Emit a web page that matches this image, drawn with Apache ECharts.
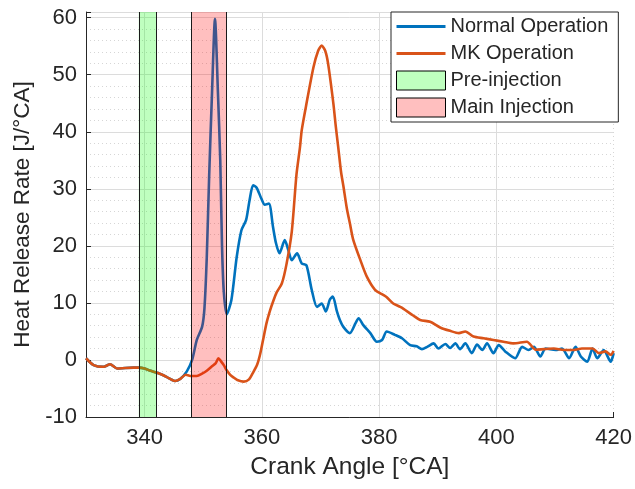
<!DOCTYPE html>
<html><head><meta charset="utf-8">
<script src="https://cdn.jsdelivr.net/npm/echarts@6/dist/echarts.min.js"></script>
<style>html,body{margin:0;padding:0;background:#fff}#c{width:635px;height:489px}</style>
</head><body><div id="c"></div>
<script>
// Crank angle [°CA] and heat release rate [J/°CA]
const normalAngle = [330,331.3,333,334.1,335.3,336.7,338.1,339,340,341,342,343,343.8,344.5,345.2,346.1,347.2,348.1,348.9,349.8,350.2,350.6,351,351.5,352,352.5,352.9,353.2,353.5,354,354.8,355.7,356.5,357.3,357.9,358.5,359.1,359.9,360.5,361.2,361.9,362.4,363,363.9,364.5,365.1,366,366.8,367.6,368.5,369.4,370.2,370.9,371.6,372.1,372.8,373.3,373.9,375,376,376.5,377.3,378.5,379.6,380.5,381.3,382.7,383.9,385.3,386.4,387.3,388.2,389.3,390.1,391.3,392.1,393,393.8,394.7,395.8,396.7,397.6,398.4,399.5,400.4,401.5,403.2,404.4,405.5,406.4,407.5,408.4,410.1,411.2,412.4,413.5,414.4,415.5,416.4,417.2,418.3,419.5,420];
const normalHRR = [0.3,-0.9,-1.2,-0.75,-1.5,-1.4,-1.35,-1.35,-1.5,-1.9,-2.2,-2.6,-3.0,-3.4,-3.7,-3.3,-2.0,0,3.5,5.8,9,18,32,47,59.8,47,35,20,12,8,10.5,18,22.7,24.5,28,30.6,30.2,28.3,27.2,27.4,23.3,20.5,18.7,21,19.3,17.5,18.7,16.9,16.6,12.3,9.3,9.9,8.5,10.6,11.1,8.5,7.0,5.8,4.7,6.5,7.3,6.1,4.7,3.2,3.5,5.0,4.4,3.8,2.6,2.4,1.9,2.3,2.9,2.0,2.8,2.1,2.9,1.9,2.9,1.2,2.7,1.75,2.9,1.2,2.6,1.5,0.3,2.3,1.75,2.3,0.6,2.0,1.75,2.0,0.3,2.3,0.6,-0.3,2.0,0.3,1.75,-0.3,1.2];
const mkAngle = [330,331.3,333,334.1,335.3,336.7,338.1,339,340,341,342,343,343.8,344.5,345.2,346.1,347,347.8,348.9,349.8,350.6,351.4,352.1,352.6,353,353.5,354,354.6,355.2,355.8,356.9,357.8,358.5,359.2,359.7,360.2,360.8,361.4,361.9,362.5,363.4,364.2,365.1,365.9,366.5,366.8,367.6,368.8,369.6,370.2,370.8,371.3,372.2,372.6,373,373.5,373.9,374.5,375,375.6,376.8,377.9,379.3,380.7,381.3,382.4,383.6,384.1,385.8,387,388.7,390.4,392.1,393.6,394.7,396.1,397.8,399.5,401.2,402.9,405.2,406.7,408.1,409.8,411.5,413.2,414.6,416.4,417.5,418.6,419.5,420];
const mkHRR = [0.3,-0.9,-1.2,-0.75,-1.5,-1.4,-1.35,-1.35,-1.5,-1.9,-2.2,-2.6,-3.0,-3.4,-3.7,-3.3,-2.6,-2.8,-2.8,-2.4,-1.9,-1.2,-0.6,0.3,-0.2,-0.9,-1.8,-2.6,-3.1,-3.5,-3.8,-3.4,-2.2,-0.8,1.0,3.5,6.5,8.7,10.2,11.8,13.4,16.8,22.5,32.5,37.3,40.3,44.9,51.3,54.2,55.1,54.2,51.9,44.9,41,37.5,33,30.5,26.5,24,21,17.5,14.6,12.3,11.4,11.0,9.9,9.3,9.0,7.8,7.0,6.7,5.7,5.1,4.7,5.0,4.1,3.8,3.5,3.2,2.9,3.2,1.8,1.9,2.0,1.75,1.75,2.0,2.0,1.2,1.5,0.9,1.6];
const preInjection = [339, 342];
const mainInjection = [348, 354];
const xTicks = [340, 360, 380, 400, 420];
const xMajorGrid = [340, 360, 380, 400];
const seriesNames = ['Normal Operation', 'MK Operation', 'Pre-injection', 'Main Injection'];

const FONT = 'Liberation Sans, Arial, sans-serif';
const TXT = '#262626';
const LINE_ICON = 'path://M0,0H49V2.8H0Z';
function pairs(xs, ys) { return xs.map((x, i) => [x, ys[i]]); }

const chart = echarts.init(document.getElementById('c'), null, {renderer: 'canvas'});
chart.setOption({
  animation: false,
  backgroundColor: '#fff',
  textStyle: {fontFamily: FONT},
  grid: {left: 86, right: 20.5, top: 12, bottom: 72, containLabel: false},
  xAxis: {
    type: 'value', min: 330, max: 420, interval: 5,
    name: 'Crank Angle [°CA]', nameLocation: 'middle', nameGap: 38,
    nameTextStyle: {fontSize: 24.5, color: TXT, fontFamily: FONT},
    axisLine: {show: true, onZero: false, lineStyle: {color: TXT, width: 1}},
    axisTick: {show: true, inside: true, length: 5, customValues: xTicks, lineStyle: {color: TXT}},
    axisLabel: {customValues: xTicks, fontSize: 22, color: TXT, margin: 10, fontFamily: FONT},
    splitLine: {show: true, lineStyle: {color: '#d6d6d6', width: 1, type: [1, 3]}}
  },
  yAxis: {
    type: 'value', min: -10, max: 61, interval: 10,
    name: 'Heat Release Rate [J/°CA]', nameLocation: 'middle', nameGap: 52,
    nameTextStyle: {fontSize: 22.5, color: TXT, fontFamily: FONT},
    axisLine: {show: true, onZero: false, lineStyle: {color: TXT, width: 1}},
    axisTick: {show: true, inside: true, length: 5, lineStyle: {color: TXT}},
    axisLabel: {fontSize: 22, color: TXT, margin: 9, fontFamily: FONT,
      formatter: v => (v % 10 === 0 ? String(v) : '')},
    splitLine: {show: true, lineStyle: {color: '#dcdcdc', width: 1}},
    minorTick: {show: false, splitNumber: 5},
    minorSplitLine: {show: true, lineStyle: {color: '#d6d6d6', width: 1, type: [1, 3]}}
  },
  legend: {
    orient: 'vertical', left: 391, top: 12,
    padding: [4.5, 10, 4.5, 5], itemWidth: 49, itemHeight: 19, itemGap: 7,
    symbolKeepAspect: true,
    backgroundColor: '#fff', borderColor: TXT, borderWidth: 1,
    textStyle: {fontSize: 20, color: TXT, fontFamily: FONT, lineHeight: 19},
    data: [
      {name: seriesNames[0], icon: LINE_ICON, itemStyle: {color: '#0072BD', borderWidth: 0}},
      {name: seriesNames[1], icon: LINE_ICON, itemStyle: {color: '#D95319', borderWidth: 0}},
      {name: seriesNames[2], icon: 'rect', itemStyle: {color: 'rgba(0,255,0,0.25)', borderColor: '#000', borderWidth: 1}},
      {name: seriesNames[3], icon: 'rect', itemStyle: {color: 'rgba(255,0,0,0.25)', borderColor: '#000', borderWidth: 1}}
    ]
  },
  series: [
    {
      name: 'grid', type: 'line', data: [], silent: true,
      markLine: {silent: true, z: 1, symbol: 'none', label: {show: false},
        lineStyle: {color: '#dcdcdc', width: 1, type: 'solid'},
        data: xMajorGrid.map(v => ({xAxis: v}))}
    },
    {
      name: seriesNames[0], type: 'line', data: pairs(normalAngle, normalHRR),
      symbol: 'none', showSymbol: false, smooth: 0.25, z: 2,
      lineStyle: {color: '#0072BD', width: 2.6}, itemStyle: {color: '#0072BD'}
    },
    {
      name: seriesNames[1], type: 'line', data: pairs(mkAngle, mkHRR),
      symbol: 'none', showSymbol: false, smooth: 0.25, z: 2,
      lineStyle: {color: '#D95319', width: 2.6}, itemStyle: {color: '#D95319'}
    },
    {
      name: seriesNames[2], type: 'line', data: [], silent: true,
      itemStyle: {color: 'rgba(0,255,0,0.25)'},
      markArea: {silent: true, z: 3, itemStyle: {color: 'rgba(0,255,0,0.25)', borderWidth: 0},
        data: [[{xAxis: preInjection[0]}, {xAxis: preInjection[1]}]]},
      markLine: {silent: true, z: 4, symbol: 'none', label: {show: false},
        lineStyle: {color: '#1a1a1a', width: 1, type: 'solid'},
        data: preInjection.map(v => ({xAxis: v}))}
    },
    {
      name: seriesNames[3], type: 'line', data: [], silent: true,
      itemStyle: {color: 'rgba(255,0,0,0.25)'},
      markArea: {silent: true, z: 3, itemStyle: {color: 'rgba(255,0,0,0.25)', borderWidth: 0},
        data: [[{xAxis: mainInjection[0]}, {xAxis: mainInjection[1]}]]},
      markLine: {silent: true, z: 4, symbol: 'none', label: {show: false},
        lineStyle: {color: '#1a1a1a', width: 1, type: 'solid'},
        data: mainInjection.map(v => ({xAxis: v}))}
    }
  ]
});
</script></body></html>
